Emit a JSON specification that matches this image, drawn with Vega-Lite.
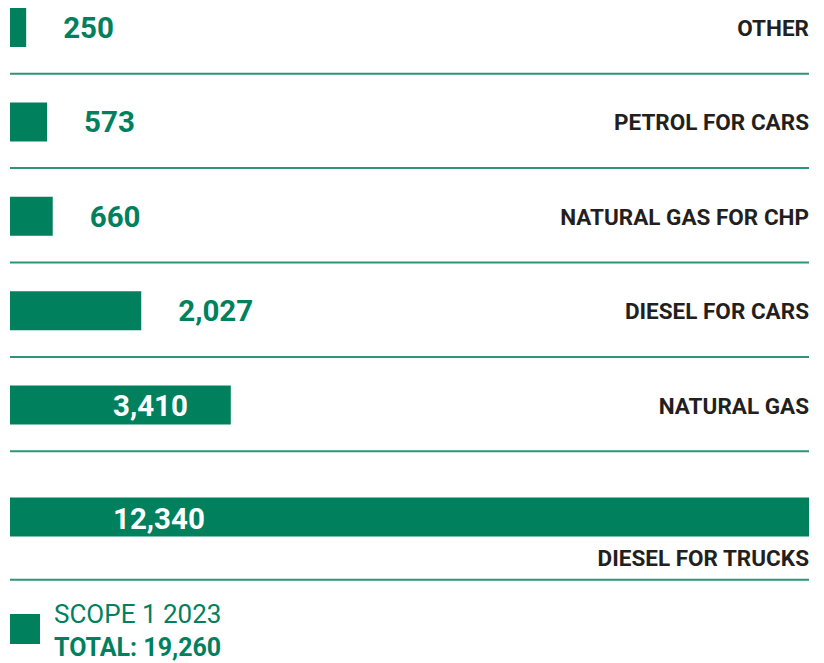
{
  "$schema": "https://vega.github.io/schema/vega-lite/v6.json",
  "width": 824,
  "height": 663,
  "autosize": {"type": "none"},
  "padding": 0,
  "background": "white",
  "config": {"view": {"stroke": null}},
  "datasets": {
    "emissions": [
      {"category": "OTHER", "value": 250},
      {"category": "PETROL FOR CARS", "value": 573},
      {"category": "NATURAL GAS FOR CHP", "value": 660},
      {"category": "DIESEL FOR CARS", "value": 2027},
      {"category": "NATURAL GAS", "value": 3410},
      {"category": "DIESEL FOR TRUCKS", "value": 12340}
    ],
    "legend": [
      {"line": "SCOPE 1 2023"},
      {"line": "TOTAL: 19,260"}
    ]
  },
  "layer": [
    {
      "data": {"name": "emissions"},
      "encoding": {
        "y": {
          "field": "category",
          "type": "nominal",
          "axis": null,
          "scale": {
            "domain": ["OTHER", "PETROL FOR CARS", "NATURAL GAS FOR CHP", "DIESEL FOR CARS", "NATURAL GAS", "DIESEL FOR TRUCKS"],
            "range": [-19.7, 546.7],
            "paddingInner": 0,
            "paddingOuter": 0
          }
        }
      },
      "layer": [
        {
          "transform": [{"filter": "datum.category !== 'DIESEL FOR TRUCKS'"}],
          "mark": {"type": "bar", "height": 39, "color": "#01805e"},
          "encoding": {
            "x": {"field": "value", "type": "quantitative", "axis": null, "scale": {"domain": [0, 12340], "range": [10, 809], "nice": false, "zero": true}}
          }
        },
        {
          "transform": [{"filter": "datum.category === 'DIESEL FOR TRUCKS'"}],
          "mark": {"type": "bar", "height": 39, "color": "#01805e", "yOffset": 17.5},
          "encoding": {
            "x": {"field": "value", "type": "quantitative", "axis": null}
          }
        },
        {
          "transform": [{"filter": "datum.category !== 'DIESEL FOR TRUCKS'"}],
          "mark": {"type": "rule", "color": "#2e9477", "strokeWidth": 2, "yOffset": -1},
          "encoding": {
            "y": {"field": "category", "type": "nominal", "bandPosition": 1},
            "x": {"datum": 0},
            "x2": {"datum": 12340}
          }
        },
        {
          "transform": [{"filter": "datum.category === 'DIESEL FOR TRUCKS'"}],
          "mark": {"type": "rule", "color": "#2e9477", "strokeWidth": 2, "yOffset": 33},
          "encoding": {
            "y": {"field": "category", "type": "nominal", "bandPosition": 1},
            "x": {"datum": 0},
            "x2": {"datum": 12340}
          }
        },
        {
          "transform": [{"filter": "datum.value < 3000"}],
          "mark": {"type": "text", "align": "left", "baseline": "middle", "dx": 37, "dy": 1.5, "font": "Roboto", "fontWeight": "bold", "fontSize": 29.5, "color": "#01805e"},
          "encoding": {
            "x": {"field": "value", "type": "quantitative"},
            "text": {"field": "value", "type": "quantitative", "format": ",d"}
          }
        },
        {
          "transform": [{"filter": "datum.value >= 3000 && datum.category !== 'DIESEL FOR TRUCKS'"}],
          "mark": {"type": "text", "align": "left", "baseline": "middle", "dx": 103, "dy": 2, "font": "Roboto", "fontWeight": "bold", "fontSize": 29.5, "color": "white"},
          "encoding": {
            "x": {"datum": 0},
            "text": {"field": "value", "type": "quantitative", "format": ",d"}
          }
        },
        {
          "transform": [{"filter": "datum.category === 'DIESEL FOR TRUCKS'"}],
          "mark": {"type": "text", "align": "left", "baseline": "middle", "dx": 103, "dy": 20, "font": "Roboto", "fontWeight": "bold", "fontSize": 29.5, "color": "white"},
          "encoding": {
            "x": {"datum": 0},
            "text": {"field": "value", "type": "quantitative", "format": ",d"}
          }
        },
        {
          "transform": [{"filter": "datum.category !== 'DIESEL FOR TRUCKS'"}],
          "mark": {"type": "text", "align": "right", "baseline": "middle", "dy": 1.5, "font": "Roboto", "fontWeight": "bold", "fontSize": 22.5, "color": "#231f20"},
          "encoding": {
            "x": {"datum": 12340},
            "text": {"field": "category", "type": "nominal"}
          }
        },
        {
          "transform": [{"filter": "datum.category === 'DIESEL FOR TRUCKS'"}],
          "mark": {"type": "text", "align": "right", "baseline": "middle", "dy": 59, "font": "Roboto", "fontWeight": "bold", "fontSize": 22.5, "color": "#231f20"},
          "encoding": {
            "x": {"datum": 12340},
            "text": {"field": "category", "type": "nominal"}
          }
        }
      ]
    },
    {
      "data": {"name": "legend"},
      "encoding": {
        "y": {
          "field": "line",
          "type": "nominal",
          "axis": null,
          "scale": {"domain": ["SCOPE 1 2023", "TOTAL: 19,260"], "range": [598.5, 664.5], "paddingInner": 0, "paddingOuter": 0}
        }
      },
      "layer": [
        {
          "transform": [{"filter": "datum.line === 'SCOPE 1 2023'"}],
          "mark": {"type": "point", "shape": "square", "size": 900, "filled": true, "opacity": 1, "color": "#01805e", "xOffset": 15, "yOffset": 14},
          "encoding": {
            "x": {"datum": 0}
          }
        },
        {
          "transform": [{"filter": "datum.line === 'SCOPE 1 2023'"}],
          "mark": {"type": "text", "align": "left", "baseline": "middle", "dx": 44, "font": "Roboto", "fontWeight": "normal", "fontSize": 26, "color": "#01805e"},
          "encoding": {
            "x": {"datum": 0},
            "text": {"field": "line", "type": "nominal"}
          }
        },
        {
          "transform": [{"filter": "datum.line === 'TOTAL: 19,260'"}],
          "mark": {"type": "text", "align": "left", "baseline": "middle", "dx": 44, "font": "Roboto", "fontWeight": "bold", "fontSize": 25, "color": "#01805e"},
          "encoding": {
            "x": {"datum": 0},
            "text": {"field": "line", "type": "nominal"}
          }
        }
      ]
    }
  ],
  "resolve": {"scale": {"y": "independent"}}
}
